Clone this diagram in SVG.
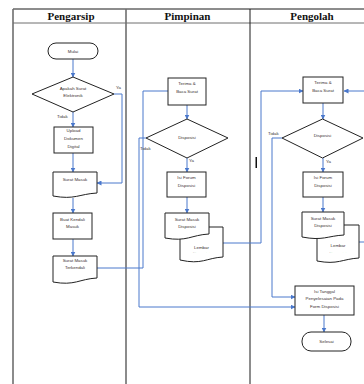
<svg xmlns="http://www.w3.org/2000/svg" width="364" height="384" viewBox="0 0 364 384">
<style>
.bg{fill:#fff}
.lane{stroke:#6e6e6e;stroke-width:1.6;fill:none}
.lanek{stroke:#1a1a1a;stroke-width:1;fill:none}
.hd{font-family:"Liberation Serif",serif;font-weight:bold;font-size:11px;fill:#111;text-anchor:middle}
.n{fill:#fff;stroke:#222;stroke-width:1}
.t{font-family:"Liberation Sans",Arial,sans-serif;font-size:4.4px;fill:#3a3030;text-anchor:middle}
.l{font-family:"Liberation Sans",Arial,sans-serif;font-size:4.4px;fill:#3a3030}
.c{fill:none;stroke:#4a78cc;stroke-width:1;marker-end:url(#ah)}
.cn{fill:none;stroke:#4a78cc;stroke-width:1}
</style>
<defs>
<marker id="ah" markerUnits="userSpaceOnUse" markerWidth="5" markerHeight="5" refX="4.5" refY="2.5" orient="auto">
<path d="M0,0 L5,2.5 L0,5 Z" fill="#4a78cc"/>
</marker>
<clipPath id="cp1"><rect x="180" y="240" width="45" height="12.3"/></clipPath>
<clipPath id="cp2"><rect x="317" y="240" width="45" height="12.3"/></clipPath>
</defs>
<rect class="bg" x="0" y="0" width="364" height="384"/>
<g id="lanes">
<line class="lanek" x1="13" y1="9" x2="364" y2="9"/>
<line class="lane" x1="13" y1="23" x2="364" y2="23" style="stroke-width:1"/>
<line class="lane" x1="13" y1="9" x2="13" y2="384"/>
<line class="lane" x1="126" y1="9" x2="126" y2="384"/>
<line class="lanek" x1="250" y1="9" x2="250" y2="384"/>
<text class="hd" x="71" y="19.5">Pengarsip</text>
<text class="hd" x="187.5" y="19.5">Pimpinan</text>
<text class="hd" x="312" y="19.5">Pengolah</text>
<rect x="255.5" y="157" width="1.5" height="11" fill="#111"/>
</g>
<g id="connectors">
<path class="c" d="M73,59 V77"/>
<path class="c" d="M73,112 V127"/>
<path class="c" d="M73,153 V172"/>
<path class="c" d="M73,198 V213"/>
<path class="c" d="M73,239 V256"/>
<path class="c" d="M114,94 H122 V183 H97"/>
<path class="c" d="M97,268 H143 V91 H176"/>
<path class="c" d="M146,138 H139 V307 H295"/>
<path class="c" d="M187,105 V119"/>
<path class="c" d="M187,158 V172"/>
<path class="c" d="M187,197 V213"/>
<path class="c" d="M223,243 H261 V91 H303"/>
<path class="c" d="M323,103 V119"/>
<path class="c" d="M323,158 V172"/>
<path class="c" d="M323,197 V212"/>
<path class="c" d="M282,138 H272 V297 H295"/>
<path class="c" d="M324,315 V332"/>
<path class="c" d="M359,242 H366 V91 H344"/>
<text class="l" x="116" y="89">Ya</text>
<text class="l" x="57" y="117.5">Tidak</text>
<text class="l" x="140" y="150">Tidak</text>
<text class="l" x="189" y="161.5">Ya</text>
<text class="l" x="268" y="134.5">Tidak</text>
<text class="l" x="326" y="163">Ya</text>
</g>
<g id="mulai">
<rect class="n" x="48" y="43" width="50" height="16" rx="8"/>
<text class="t" x="73" y="52.5">Mulai</text>
</g>
<g id="apakah">
<path class="n" d="M32,94 L73,77 L114,94 L73,112 Z"/>
<text class="t" x="73" y="89.5">Apakah Surat</text>
<text class="t" x="73" y="97">Elektronik</text>
</g>
<g id="upload">
<rect class="n" x="54" y="127" width="39" height="26"/>
<text class="t" x="73.5" y="131.7">Upload</text>
<text class="t" x="73.5" y="139.7">Dokumen</text>
<text class="t" x="73.5" y="148.2">Digital</text>
</g>
<g id="suratmasuk">
<path class="n" d="M53,172 H97 V193 C79,194 75,200 53,196 Z"/>
<text class="t" x="75" y="180.5">Surat Masuk</text>
</g>
<g id="buatkendali">
<rect class="n" x="53" y="213" width="39" height="26"/>
<text class="t" x="72.5" y="220.5">Buat Kendali</text>
<text class="t" x="72.5" y="227.5">Masuk</text>
</g>
<g id="terkendali">
<path class="n" d="M53,256 H97 V278 C79,279 75,286 53,282 Z"/>
<text class="t" x="75" y="262">Surat Masuk</text>
<text class="t" x="75" y="269">Terkendali</text>
</g>
<g id="terima1">
<rect class="n" x="168" y="78" width="38" height="27"/>
<text class="t" x="187" y="85">Terima &amp;</text>
<text class="t" x="187" y="92.5">Baca Surat</text>
</g>
<g id="disposisi1">
<path class="n" d="M146,138 L187,119 L228,138 L187,158 Z"/>
<text class="t" x="187" y="139">Disposisi</text>
</g>
<g id="isiforum1">
<rect class="n" x="167" y="172" width="39" height="25"/>
<text class="t" x="186.5" y="179">Isi Forum</text>
<text class="t" x="186.5" y="186.5">Disposisi</text>
</g>
<g id="lembar1">
<path class="n" d="M180,227 H223 V257 C206,258 202,265 180,260 Z"/>
<text class="t" x="201.5" y="248.5">Lembar</text>
<text class="t" x="201.5" y="254.5" clip-path="url(#cp1)">Disposisi</text>
</g>
<g id="smd1">
<path class="n" d="M165,213 H209 V234 C191,235 187,242 165,238 Z"/>
<text class="t" x="187" y="220.5">Surat Masuk</text>
<text class="t" x="187" y="227.5">Disposisi</text>
</g>
<g id="terima2">
<rect class="n" x="303" y="77" width="40" height="26"/>
<text class="t" x="323" y="84">Terima &amp;</text>
<text class="t" x="323" y="91.5">Baca Surat</text>
</g>
<g id="disposisi2">
<path class="n" d="M282,138 L322.5,119 L363,138 L322.5,158 Z"/>
<text class="t" x="322.5" y="137">Disposisi</text>
</g>
<g id="isiforum2">
<rect class="n" x="303" y="172" width="40" height="25"/>
<text class="t" x="323" y="179">Isi Forum</text>
<text class="t" x="323" y="186.5">Disposisi</text>
</g>
<g id="lembar2">
<path class="n" d="M317,225 H359 V258 C342,259 338,265 317,261 Z"/>
<text class="t" x="338" y="246.5">Lembar</text>
<text class="t" x="338" y="254.5" clip-path="url(#cp2)">Disposisi</text>
</g>
<g id="smd2">
<path class="n" d="M302,212 H344 V235 C327,236 323,241 302,237 Z"/>
<text class="t" x="323" y="219.5">Surat Masuk</text>
<text class="t" x="323" y="226.5">Disposisi</text>
</g>
<g id="isitanggal">
<rect class="n" x="295" y="286" width="59" height="29"/>
<text class="t" x="324.5" y="292.5">Isi Tanggal</text>
<text class="t" x="324.5" y="300">Penyelesaian  Pada</text>
<text class="t" x="324.5" y="307.5">Form Disposisi</text>
</g>
<g id="selesai">
<rect class="n" x="302" y="332" width="49" height="19" rx="9"/>
<text class="t" x="326.5" y="343">Selesai</text>
</g>
</svg>
